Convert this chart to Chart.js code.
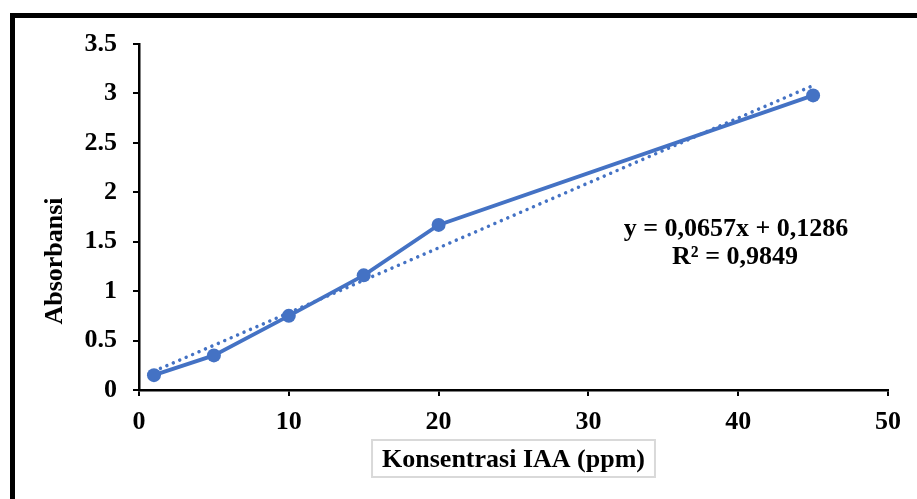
<!DOCTYPE html>
<html>
<head>
<meta charset="utf-8">
<script src="https://cdn.jsdelivr.net/npm/chart.js@4"></script>
<style>
  html, body { margin: 0; padding: 0; background: #fff; overflow: hidden; }
  #wrap { position: relative; width: 917px; height: 499px; }
  #frame {
    position: absolute; left: 10px; top: 13px; width: 940px; height: 520px;
    border-left: 5px solid #000; border-top: 5px solid #000; pointer-events: none;
  }
  canvas { position: absolute; left: 0; top: 0; }
</style>
</head>
<body>
<div id="wrap">
  <canvas id="chart" width="917" height="499"></canvas>
  <div id="frame"></div>
</div>
<script>
// measured concentrations (ppm) and absorbance
const konsentrasi = [1, 5, 10, 15, 20, 45];
const absorbansi = [0.15, 0.35, 0.75, 1.16, 1.67, 2.98];
// linear trendline ends
const trendX = [1, 45];
const trendY = [0.19, 3.08];
const equation = ['y = 0,0657x + 0,1286', 'R² = 0,9849'];
const xTitle = 'Konsentrasi IAA (ppm)';
const yTitle = 'Absorbansi';

const blue = '#4472C4';
const font = 'bold 26px "Liberation Serif", "Times New Roman", serif';

const titles = {
  id: 'titles',
  afterDraw(chart) {
    const ctx = chart.ctx;
    const area = chart.chartArea;
    ctx.save();
    ctx.font = font;
    ctx.fillStyle = '#000';
    ctx.textAlign = 'center';
    ctx.textBaseline = 'middle';

    // x axis title in a light box
    const cx = (area.left + area.right) / 2;
    const w = ctx.measureText(xTitle).width;
    ctx.strokeStyle = '#d9d9d9';
    ctx.lineWidth = 2;
    ctx.strokeRect(cx - w / 2 - 10, 440, w + 20, 37);
    ctx.fillText(xTitle, cx, 460);

    // y axis title
    ctx.save();
    ctx.translate(55, 261);
    ctx.rotate(-Math.PI / 2);
    ctx.fillText(yTitle, 0, 0);
    ctx.restore();

    // trendline equation
    ctx.fillText(equation[0], 736, 229);
    ctx.fillText(equation[1], 735, 257);
    ctx.restore();
  }
};

new Chart(document.getElementById('chart').getContext('2d'), {
  type: 'scatter',
  data: {
    datasets: [{
      label: 'Linear',
      data: trendX.map((x, i) => ({ x: x, y: trendY[i] })),
      showLine: true,
      borderColor: blue,
      borderWidth: 3.5,
      borderDash: [0.01, 7],
      borderCapStyle: 'round',
      pointRadius: 0,
      order: 2
    },
    {
      label: 'Absorbansi',
      data: konsentrasi.map((x, i) => ({ x: x, y: absorbansi[i] })),
      showLine: true,
      borderColor: blue,
      borderWidth: 3.8,
      pointRadius: 7,
      pointBackgroundColor: blue,
      pointBorderWidth: 0,
      order: 1
    }]
  },
  plugins: [titles],
  options: {
    responsive: false,
    animation: false,
    layout: { padding: { top: 44, right: 29, left: 0, bottom: 0 } },
    plugins: {
      legend: { display: false },
      tooltip: { enabled: false }
    },
    scales: {
      x: {
        type: 'linear',
        min: 0,
        max: 50,
        afterFit: s => { s.height = 109; },
        border: { display: true, color: '#000', width: 2.5 },
        grid: { drawOnChartArea: false, drawTicks: true, tickLength: 6, color: '#000', lineWidth: 2 },
        ticks: { stepSize: 10, color: '#000', font: { family: '"Liberation Serif", "Times New Roman", serif', weight: 'bold', size: 26 }, padding: 11, maxRotation: 0 }
      },
      y: {
        min: 0,
        max: 3.5,
        afterFit: s => { s.width = 139; },
        border: { display: true, color: '#000', width: 2.5 },
        grid: { drawOnChartArea: false, drawTicks: true, tickLength: 6, color: '#000', lineWidth: 2 },
        ticks: { stepSize: 0.5, color: '#000', font: { family: '"Liberation Serif", "Times New Roman", serif', weight: 'bold', size: 26 }, padding: 16, callback: v => String(v) }
      }
    }
  }
});
</script>
</body>
</html>
